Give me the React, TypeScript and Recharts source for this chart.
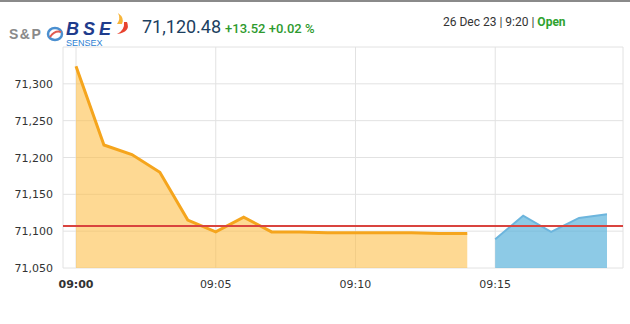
import { AreaChart, Area, XAxis, YAxis, CartesianGrid, ReferenceLine } from 'recharts';

// minutes after 09:00
const minutes = [0, 1, 2, 3, 4, 5, 6, 7, 8, 9, 10, 11, 12, 13, 14, 15, 16, 17, 18, 19];
const earlySession = [
	71324, 71217, 71204, 71180, 71115, 71099, 71119, 71099, 71099, 71098, 71098, 71098, 71098, 71097, 71097
];
const lateSession = [71089, 71121, 71099, 71118, 71123];
const prevClose = 71106.96;
const yTicks = [71050, 71100, 71150, 71200, 71250, 71300, 71350];
const xTicks = [0, 5, 10, 15];
const xTickLabels = ['09:00', '09:05', '09:10', '09:15'];

const data = minutes.map((m, i) => ({
	m,
	early: i < earlySession.length ? earlySession[i] : null,
	late: i >= earlySession.length ? lateSession[i - earlySession.length] : null
}));

const font = 'DejaVu Sans, Verdana, sans-serif';

const YTick = (props: any) => {
	const { x, y, payload } = props;
	if (payload.value === 71350) return null;
	return (
		<text x={x} y={y} dy={4} textAnchor='end' fontSize={11} fontFamily={font} fill='#333'>
			{payload.value.toLocaleString('en-US')}
		</text>
	);
};

const XTick = (props: any) => {
	const { x, y, payload } = props;
	const idx = xTicks.indexOf(payload.value);
	return (
		<text
			x={x}
			y={y}
			dy={9}
			textAnchor='middle'
			fontSize={11}
			fontFamily={font}
			fontWeight={idx === 0 ? 'bold' : 'normal'}
			fill='#333'
		>
			{xTickLabels[idx]}
		</text>
	);
};

const Logo = () => (
	<div style={{ position: 'absolute', left: 0, top: 0, width: 140, height: 48 }}>
		<span
			style={{
				position: 'absolute',
				left: 9,
				top: 27,
				lineHeight: 1,
				fontFamily: 'Arial, Liberation Sans, sans-serif',
				fontWeight: 'bold',
				fontSize: 14,
				letterSpacing: 1.5,
				color: '#8a8a8a'
			}}
		>
			S&amp;P
		</span>
		<svg style={{ position: 'absolute', left: 46, top: 26 }} width={18} height={16}>
			<ellipse cx={9} cy={8} rx={7} ry={6} fill='none' stroke='#4a8fd0' strokeWidth={2.5} />
			<path d='M4 11 Q9 4 15 6' fill='none' stroke='#e05a4f' strokeWidth={2} />
		</svg>
		<span
			style={{
				position: 'absolute',
				left: 66,
				top: 20,
				lineHeight: 1,
				fontFamily: 'Arial, Liberation Sans, sans-serif',
				fontWeight: 'bold',
				fontStyle: 'italic',
				fontSize: 18,
				letterSpacing: 4,
				color: '#1f3c8c'
			}}
		>
			BSE
		</span>
		<span
			style={{
				position: 'absolute',
				left: 66,
				top: 39,
				lineHeight: 1,
				fontFamily: 'Arial, Liberation Sans, sans-serif',
				fontSize: 9,
				color: '#2d7fd3'
			}}
		>
			SENSEX
		</span>
		<svg style={{ position: 'absolute', left: 113, top: 12 }} width={20} height={24}>
			<path d='M5 1 Q12 6 9 12 L4 12 Q8 7 5 1 Z' fill='#f7b53a' />
			<path d='M14 10 Q18 20 4 22 Q12 18 11 10 Z' fill='#e8432f' />
		</svg>
	</div>
);

const App = () => {
	return (
		<div style={{ position: 'absolute', left: 0, top: 0, width: 630, height: 324, background: '#fff' }}>
			<AreaChart
				width={630}
				height={324}
				data={data}
				margin={{ top: 47, right: 7, left: 0, bottom: 0 }}
			>
				<CartesianGrid stroke='#e2e2e2' strokeWidth={1} />
				<XAxis
					dataKey='m'
					type='number'
					domain={[0, 19]}
					ticks={xTicks}
					padding={{ left: 13, right: 16 }}
					axisLine={false}
					tickLine={false}
					tick={<XTick />}
					tickSize={8}
					tickMargin={3}
					height={56}
					interval={0}
				/>
				<YAxis
					domain={[71050, 71350]}
					ticks={yTicks}
					width={63}
					axisLine={false}
					tickLine={false}
					tickSize={8}
					tickMargin={2}
					tick={<YTick />}
					interval={0}
				/>
				<Area
					type='linear'
					dataKey='early'
					stroke='#f5a51d'
					strokeWidth={3}
					fill='#fdc04b'
					fillOpacity={0.6}
					isAnimationActive={false}
					dot={false}
					activeDot={false}
				/>
				<Area
					type='linear'
					dataKey='late'
					stroke='#6cb5dd'
					strokeWidth={2}
					fill='#5db3db'
					fillOpacity={0.7}
					isAnimationActive={false}
					dot={false}
					activeDot={false}
				/>
				<ReferenceLine y={prevClose} stroke='#d9443f' strokeWidth={2} />
			</AreaChart>
			<div style={{ position: 'absolute', left: 0, top: 0, width: 630, height: 2, background: '#8a8a8a' }} />
			<Logo />
			<div
				style={{
					position: 'absolute',
					left: 142,
					top: 16,
					fontFamily: 'Roboto, sans-serif',
					whiteSpace: 'nowrap'
				}}
			>
				<span style={{ fontSize: 18, color: '#1c3f5f' }}>71,120.48</span>
				<span style={{ fontSize: 13, color: '#2e9a2e', fontWeight: 500, marginLeft: 4 }}>
					+13.52 +0.02 %
				</span>
			</div>
			<div
				style={{
					position: 'absolute',
					left: 443,
					top: 15,
					fontFamily: 'Roboto, sans-serif',
					fontSize: 12,
					color: '#333',
					whiteSpace: 'nowrap'
				}}
			>
				26 Dec 23 | 9:20 | <span style={{ color: '#2fa32f', fontWeight: 'bold' }}>Open</span>
			</div>
		</div>
	);
};

export default App;
